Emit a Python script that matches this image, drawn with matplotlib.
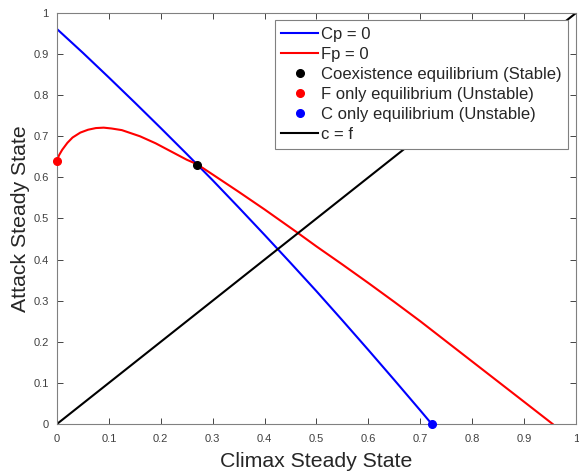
import numpy as np
import matplotlib.pyplot as plt

plt.rcParams['font.family'] = ['Liberation Sans', 'DejaVu Sans']

# Cp = 0 nullcline
cp_x = [0.0, 0.05, 0.10, 0.15, 0.20, 0.25, 0.30, 0.35, 0.40, 0.45, 0.50, 0.55, 0.60, 0.65, 0.70, 0.722]
cp_y = [0.961, 0.903, 0.843, 0.782, 0.720, 0.657, 0.593, 0.527, 0.460, 0.392, 0.323, 0.252, 0.180, 0.107, 0.033, 0.0]

# Fp = 0 nullcline
fp_x = [0.0, 0.004, 0.01, 0.02, 0.03, 0.045, 0.06, 0.075, 0.09, 0.105, 0.125, 0.16, 0.19, 0.22, 0.25, 0.27,
        0.30, 0.35, 0.40, 0.465, 0.50, 0.55, 0.60, 0.65, 0.70, 0.75, 0.80, 0.85, 0.90, 0.955]
fp_y = [0.641, 0.654, 0.667, 0.684, 0.697, 0.709, 0.716, 0.720, 0.721, 0.719, 0.715, 0.700, 0.683, 0.663, 0.643, 0.632,
        0.607, 0.565, 0.522, 0.464, 0.432, 0.388, 0.343, 0.297, 0.250, 0.201, 0.152, 0.103, 0.054, 0.0]

# equilibria
coex = (0.27, 0.63)
f_only = (0.0, 0.641)
c_only = (0.722, 0.0)

diag = [0, 1]

fig = plt.figure(figsize=(5.79, 4.74), dpi=100)
ax = fig.add_axes([0.0984, 0.1055, 0.8964, 0.8671])

ax.plot(cp_x, cp_y, color='#0000ff', lw=1.5, label='Cp = 0')
ax.plot(fp_x, fp_y, color='#ff0000', lw=1.5, label='Fp = 0')
ax.plot(*coex, 'o', color='black', ms=5.5, label='Coexistence equilibrium (Stable)')
ax.plot(*f_only, 'o', color='#ff0000', ms=5.5, label='F only equilibrium (Unstable)', clip_on=False, zorder=5)
ax.plot(*c_only, 'o', color='#0000ff', ms=5.5, label='C only equilibrium (Unstable)', clip_on=False, zorder=5)
ax.plot(diag, diag, color='black', lw=1.5, label='c = f')

ax.set_xlim(0, 1)
ax.set_ylim(0, 1)
ticks = np.round(np.arange(0, 1.01, 0.1), 1)
labels = ['0'] + [f'{t:g}' for t in ticks[1:-1]] + ['1']
ax.set_xticks(ticks)
ax.set_xticklabels(labels)
ax.set_yticks(ticks)
ax.set_yticklabels(labels)
ax.tick_params(direction='in', length=4, width=0.6, color='#262626', labelsize=8,
               labelcolor='#404040', top=True, right=True)
ax.tick_params(axis='x', pad=7)
ax.tick_params(axis='y', pad=6)
for s in ax.spines.values():
    s.set_color('#808080')
    s.set_linewidth(0.8)

ax.set_xlabel('Climax Steady State', fontsize=15.3, color='#262626', labelpad=6)
ax.set_ylabel('Attack Steady State', fontsize=15.3, color='#262626', labelpad=2)

leg = ax.legend(loc='upper right', fontsize=12, frameon=True, fancybox=False,
                handlelength=2.2, handletextpad=0.2, borderpad=0.4, labelspacing=0.3,
                borderaxespad=0.45, framealpha=1)
leg.get_frame().set_edgecolor('#808080')
leg.get_frame().set_linewidth(0.8)
for t in leg.get_texts():
    t.set_color('#262626')

fig.savefig('out.png', dpi=100)
